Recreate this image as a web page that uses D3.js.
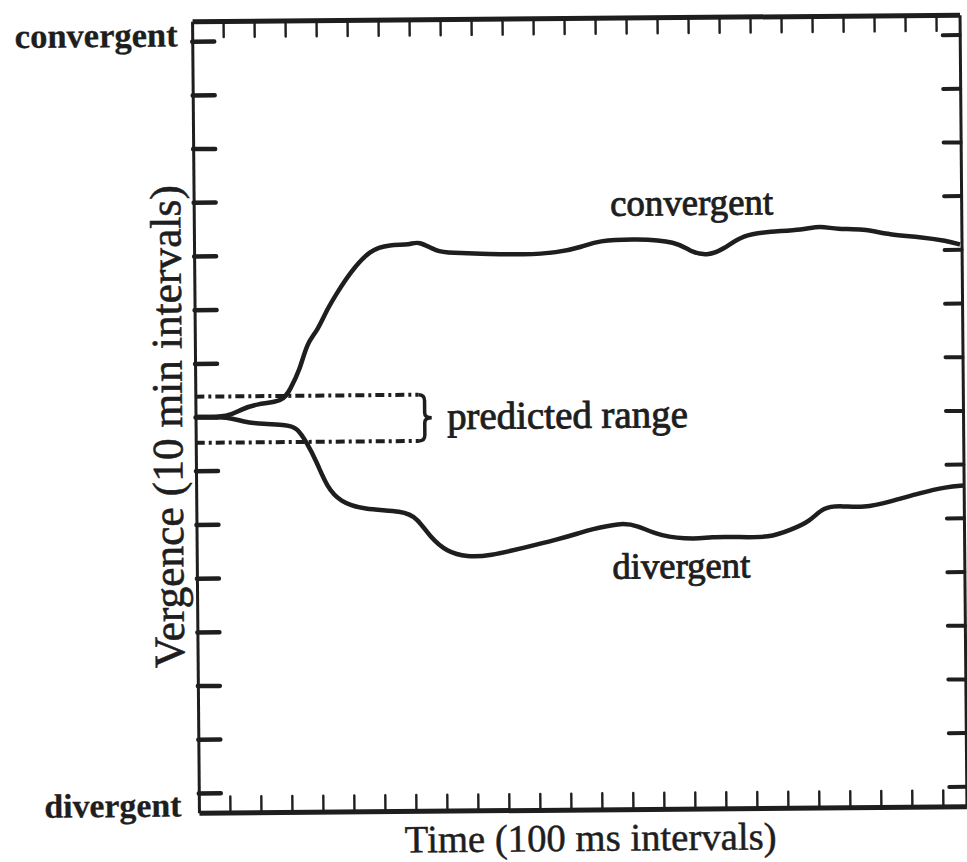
<!DOCTYPE html>
<html>
<head>
<meta charset="utf-8">
<script src="https://cdn.jsdelivr.net/npm/d3@7"></script>
<style>
  html, body { margin: 0; padding: 0; background: #fff; }
  svg { display: block; }
</style>
</head>
<body>
<div id="chart"></div>
<script>
'use strict';

// time in 100 ms intervals, vergence in 10 min intervals (0 = fixation)
var convergentX = [0, 1.1, 1.44, 1.98, 2.82, 3.05, 3.38, 3.62, 3.94, 4.27, 4.6, 5.02, 5.67, 6.32, 6.97, 7.23, 7.84, 8.25, 9.55, 10.61, 11.71, 12.55, 13.0, 14.29, 15.58, 16.0, 16.55, 17.06, 17.71, 18.58, 19.65, 20.2, 20.74, 21.58, 22.45, 23.42, 24.29, 24.71];
var convergentY = [0, 0, 0.13, 0.24, 0.27, 0.49, 0.86, 1.37, 1.57, 1.98, 2.29, 2.66, 3.09, 3.18, 3.17, 3.25, 3.04, 3.02, 2.99, 2.97, 3.0, 3.11, 3.22, 3.25, 3.19, 3.0, 2.92, 3.03, 3.31, 3.36, 3.39, 3.46, 3.39, 3.40, 3.28, 3.24, 3.16, 3.09];

var divergentX = [0, 1.1, 1.53, 2.18, 2.95, 3.27, 3.59, 3.91, 4.22, 4.64, 5.38, 6.67, 7.12, 7.53, 8.07, 8.72, 9.46, 10.53, 11.63, 12.37, 12.69, 13.66, 14.21, 14.95, 16.14, 16.56, 17.43, 18.5, 19.15, 19.79, 20.22, 20.86, 21.51, 22.38, 23.35, 24.22, 24.74];
var divergentY = [0, 0, -0.1, -0.14, -0.16, -0.21, -0.5, -0.87, -1.32, -1.6, -1.75, -1.78, -1.91, -2.27, -2.55, -2.65, -2.63, -2.49, -2.34, -2.22, -2.16, -2.04, -2.08, -2.3, -2.36, -2.31, -2.32, -2.34, -2.2, -2.05, -1.77, -1.76, -1.8, -1.69, -1.53, -1.42, -1.4];

var predictedRange = [-0.48, 0.38];   // vergence band
var predictedUntil = 7.2;             // time where the band ends

var xTicks = d3.range(1, 25);
var yTicks = d3.range(-7, 8);
var yEndLabels = ['divergent', 'convergent'];
var seriesLabels = ['convergent', 'divergent'];
var xTitle = 'Time (100 ms intervals)';
var yTitle = 'Vergence (10 min intervals)';

var width = 967, height = 862;
var ink = '#1e1e1e';
var times = '"Liberation Serif", "Times New Roman", serif';

var x = d3.scaleLinear().domain([0, 24.76]).range([195.5, 963]);
var y = d3.scaleLinear().domain([-7.37, 7.37]).range([809.5, 18]);

var svg = d3.select('#chart').append('svg')
    .attr('width', width)
    .attr('height', height);

// the scanned figure sits a little crooked
var g = svg.append('g').attr('transform', 'rotate(-0.5, 579, 414)');

function styleAxis(sel, domainWidth, tickWidth) {
    sel.select('.domain').attr('stroke', ink).attr('stroke-width', domainWidth);
    sel.selectAll('.tick line').attr('stroke', ink).attr('stroke-width', tickWidth).attr('stroke-linecap', 'round');
    sel.selectAll('.tick text').remove();
}

g.append('g')
    .attr('transform', 'translate(' + x.range()[0] + ',0)')
    .call(d3.axisRight(y).tickValues(yTicks).tickSize(22).tickSizeOuter(0).tickFormat(''))
    .call(styleAxis, 3, 4.5);

g.append('g')
    .attr('transform', 'translate(' + x.range()[1] + ',0)')
    .call(d3.axisLeft(y).tickValues(yTicks).tickSize(17).tickSizeOuter(0).tickFormat(''))
    .call(styleAxis, 3, 4);

g.append('g')
    .attr('transform', 'translate(0,' + y.range()[1] + ')')
    .call(d3.axisBottom(x).tickValues(xTicks).tickSize(16).tickSizeOuter(0).tickFormat(''))
    .call(styleAxis, 5, 2.4);

g.append('g')
    .attr('transform', 'translate(0,' + y.range()[0] + ')')
    .call(d3.axisTop(x).tickValues(xTicks).tickSize(16).tickSizeOuter(0).tickFormat(''))
    .call(styleAxis, 5, 2.4);

// predicted range: dash-dot band with a brace
g.selectAll('.band').data(predictedRange).enter().append('line')
    .attr('class', 'band')
    .attr('x1', x(0)).attr('x2', x(predictedUntil))
    .attr('y1', function(d) { return y(d); })
    .attr('y2', function(d) { return y(d); })
    .attr('stroke', ink).attr('stroke-width', 4)
    .attr('stroke-dasharray', '9 4 3 4');

var bx = x(predictedUntil), bt = y(predictedRange[1]), bb = y(predictedRange[0]), bm = (bt + bb) / 2;
var brace = d3.path();
brace.moveTo(bx, bt);
brace.quadraticCurveTo(bx + 6, bt, bx + 6, bt + 6);
brace.lineTo(bx + 6, bm - 5);
brace.quadraticCurveTo(bx + 6, bm, bx + 13, bm);
brace.quadraticCurveTo(bx + 6, bm, bx + 6, bm + 5);
brace.lineTo(bx + 6, bb - 6);
brace.quadraticCurveTo(bx + 6, bb, bx, bb);
g.append('path').attr('d', brace.toString())
    .attr('fill', 'none').attr('stroke', ink).attr('stroke-width', 3.5);

// traces
var line = d3.line()
    .x(function(d) { return x(d[0]); })
    .y(function(d) { return y(d[1]); })
    .curve(d3.curveBasis);

[[convergentX, convergentY], [divergentX, divergentY]].forEach(function(s) {
    g.append('path')
        .datum(d3.zip(s[0], s[1]))
        .attr('d', line)
        .attr('fill', 'none')
        .attr('stroke', ink)
        .attr('stroke-width', 4.5)
        .attr('stroke-linejoin', 'round');
});

function fit(sel, w) {
    var len = sel.node().getComputedTextLength();
    sel.attr('font-size', parseFloat(sel.attr('font-size')) * w / len);
    return sel;
}

function label(txt, px, py, anchor, weight, size, w, heavy) {
    var t = g.append('text')
        .attr('x', px).attr('y', py)
        .attr('text-anchor', anchor)
        .attr('font-family', times)
        .attr('font-weight', weight)
        .attr('font-size', size)
        .attr('fill', ink)
        .attr('stroke', ink)
        .attr('stroke-width', heavy)
        .text(txt);
    return fit(t, w);
}

label(yEndLabels[1], 181, 43, 'end', 'bold', 34, 163, 0.3);
label(yEndLabels[0], 178, 813, 'end', 'bold', 34, 137, 0.3);
label(seriesLabels[0], 612, 216, 'start', 'normal', 36, 163, 0.9);
label(seriesLabels[1], 611, 579, 'start', 'normal', 36, 138, 0.9);
label('predicted range', 447, 428, 'start', 'normal', 38, 241, 0.9);
label(xTitle, 587, 851, 'middle', 'normal', 36, 372, 0.5);
label(yTitle, 0, 0, 'middle', 'normal', 40, 483, 0.6)
    .attr('transform', 'translate(182,423) rotate(-90)');
</script>
</body>
</html>
